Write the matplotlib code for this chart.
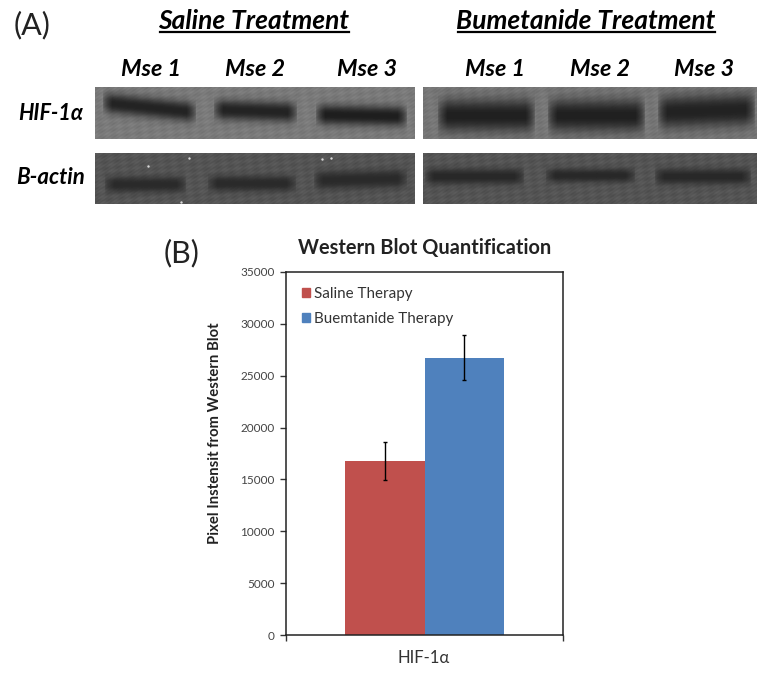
import numpy as np
import matplotlib
matplotlib.use('Agg')
import matplotlib.pyplot as plt
from matplotlib.patches import Patch

plt.rcParams['font.family'] = ['Lato', 'Noto Sans', 'DejaVu Sans']

# chart values
categories = ['HIF-1α']
series_names = ['Saline Therapy', 'Buemtanide Therapy']
series_values = [16800, 26750]
series_errors = [1850, 2175]
series_colors = ['#C0504D', '#4F81BD']
y_ticks = [0, 5000, 10000, 15000, 20000, 25000, 30000, 35000]

# blot labels
mouse_labels = ['Mse 1', 'Mse 2', 'Mse 3']
treatments = ['Saline Treatment', 'Bumetanide Treatment']
proteins = ['HIF-1α', 'B-actin']

W, H = 766, 679
fig = plt.figure(figsize=(W / 100, H / 100), dpi=100, facecolor='white')

# page axes in pixel coordinates, for the blots and the labels
page = fig.add_axes([0, 0, 1, 1])
page.set_xlim(0, W)
page.set_ylim(H, 0)
page.axis('off')


def blot(x0, x1, y0, y1, base, bands):
    # bands: x start, x end, y at left, y at right, half height, darkness
    xx, yy = np.meshgrid(np.arange(x0, x1, 1.0), np.arange(y0, y1, 1.0))
    img = base + 6 * np.sin(xx * 0.31 + yy * 0.47) * np.cos(yy * 0.53 - xx * 0.19)
    img += 3 * np.sin(xx * 1.3 + yy * 1.9)
    for bx0, bx1, yl, yr, hh, dark in bands:
        yc = yl + (yr - yl) * (xx - bx0) / (bx1 - bx0)
        fx = np.clip((xx - bx0) / 10, 0, 1) * np.clip((bx1 - xx) / 10, 0, 1)
        fy = np.exp(-np.abs((yy - yc) / hh) ** 2.4)
        img = img - (img - dark) * np.sqrt(fx) * fy
    page.imshow(img, cmap='gray', vmin=0, vmax=255, extent=(x0, x1, y1, y0),
                aspect='auto', interpolation='bicubic', zorder=1)


blot(95, 415, 87, 139, 122, [(102, 196, 102, 112, 10, 35), (213, 297, 109, 112, 10, 35),
                             (315, 407, 114, 116, 10, 30)])
blot(95, 415, 153, 204, 84, [(104, 186, 184, 184, 8, 42), (207, 296, 183, 183, 8, 42),
                             (313, 407, 180, 178, 9, 42)])
blot(423, 757, 87, 139, 118, [(437, 535, 115, 115, 16, 32), (547, 645, 115, 115, 16, 32),
                              (657, 755, 112, 109, 16, 34)])
blot(423, 757, 153, 204, 84, [(424, 524, 176, 176, 8, 40), (545, 635, 175, 175, 7, 40),
                              (654, 751, 176, 176, 8, 40)])
page.set_xlim(0, W)
page.set_ylim(H, 0)

# specks on the blots
page.scatter([148, 189, 181, 322, 331], [166, 158, 202, 159, 158], s=3, c='#d8d8d8',
             linewidths=0, zorder=2)

page.text(14, 25, '(A)', fontsize=22, color='#222222', ha='left', va='center')
page.text(164, 253, '(B)', fontsize=22, color='#222222', ha='left', va='center')

for label, cx, x0, x1 in zip(treatments, [254, 586], [160, 458], [349, 715]):
    page.text(cx, 21, label, fontsize=19, fontweight='bold', fontstyle='italic',
              ha='center', va='center', color='black')
    page.plot([x0, x1], [32, 32], color='black', lw=1.6, zorder=3)

for cx, label in zip([151, 255, 367, 495, 600, 704], mouse_labels * 2):
    page.text(cx, 69.5, label, fontsize=16.8, fontweight='bold', fontstyle='italic',
              ha='center', va='center', color='black')

page.text(51, 114, proteins[0], fontsize=15.5, fontweight='bold', fontstyle='italic',
          ha='center', va='center', color='black')
page.text(51, 177, proteins[1], fontsize=16, fontweight='bold', fontstyle='italic',
          ha='center', va='center', color='black')

# bar chart
ax = fig.add_axes([286 / W, 1 - 635 / H, 277 / W, 363 / H])
ax.set_facecolor('none')
bar_w = 0.287
offsets = [-bar_w / 2, bar_w / 2]
for off, val, err, col, name in zip(offsets, series_values, series_errors, series_colors,
                                    series_names):
    ax.bar(off, val, bar_w, color=col, label=name,
           yerr=err, error_kw=dict(ecolor='black', elinewidth=1.0, capsize=1.5, capthick=1))

ax.set_xlim(-0.5, 0.5)
ax.set_ylim(0, 35000)
ax.set_yticks(y_ticks)
ax.set_xticks([-0.5, 0.5])
ax.set_xticklabels(['', ''])
ax.tick_params(axis='y', labelsize=8.5, labelcolor='#444444', length=4, width=1, color='#333333', pad=4)
ax.tick_params(axis='x', length=4, width=1, color='#333333')
for side in ax.spines.values():
    side.set_color('#222222')
    side.set_linewidth(1.1)

page.text(424, 658, categories[0], fontsize=12, color='#333333', ha='center', va='center')
page.text(215, 433, 'Pixel Instensit from Western Blot', fontsize=10.7, fontweight='bold',
          rotation=90, color='#222222', ha='center', va='center')
page.text(425, 248, 'Western Blot Quantification', fontsize=14.4, fontweight='bold',
          color='#222222', ha='center', va='center')

handles = [Patch(color=c, label=n) for c, n in zip(series_colors, series_names)]
ax.legend(handles=handles, loc='upper left', bbox_to_anchor=(0.058, 0.958), frameon=False,
          fontsize=10.9, handlelength=0.55, handleheight=0.55, handletextpad=0.27,
          labelspacing=0.68, labelcolor='#333333', borderaxespad=0, borderpad=0)

fig.savefig('out.png', dpi=100)
